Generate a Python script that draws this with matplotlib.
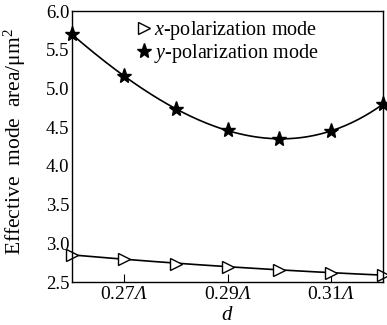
import numpy as np
import matplotlib
matplotlib.use('Agg')
import matplotlib.pyplot as plt

plt.rcParams['font.family'] = 'Liberation Serif'
plt.rcParams['mathtext.fontset'] = 'custom'
plt.rcParams['mathtext.rm'] = 'Liberation Serif'
plt.rcParams['mathtext.it'] = 'Liberation Serif:italic'
# italic slot for the capital Lambda (mathtext forces Greek capitals upright in 'it')
plt.rcParams['mathtext.sf'] = 'Liberation Serif:italic'

# data
d = [0.26, 0.27, 0.28, 0.29, 0.30, 0.31, 0.32]
x_mode = [2.85, 2.80, 2.74, 2.70, 2.66, 2.62, 2.59]
y_mode = [5.70, 5.16, 4.74, 4.46, 4.35, 4.45, 4.80]
xtick_pos = [0.27, 0.29, 0.31]
xtick_labels = [r'0.27$\mathsf{\Lambda}$', r'0.29$\mathsf{\Lambda}$', r'0.31$\mathsf{\Lambda}$']

fig = plt.figure(figsize=(3.87, 3.25), dpi=100)
ax = fig.add_axes([0.186, 0.132, 0.804, 0.834])

# smooth curves through the points
dd = np.linspace(d[0], d[-1], 200)
ax.plot(dd, np.polyval(np.polyfit(d, x_mode, 3), dd), 'k-', lw=1.2)
ax.plot(dd, np.polyval(np.polyfit(d, y_mode, 3), dd), 'k-', lw=1.2)
ax.plot(d, x_mode, '>', color='k', mfc='white', ms=8.5, mew=1.0, clip_on=False,
        label=r'$x$-polarization mode')
ax.plot(d, y_mode, '*', color='k', ms=11, clip_on=False,
        label=r'$y$-polarization mode')

ax.set_xlim(0.26, 0.32)
ax.set_ylim(2.5, 6.0)
ax.set_xticks(xtick_pos)
ax.set_xticklabels(xtick_labels)
ax.set_yticks(np.arange(2.5, 6.01, 0.5))
ax.tick_params(axis='x', direction='in', length=6, labelsize=14, pad=3)
ax.tick_params(axis='y', length=0, labelsize=13.5, pad=2)
for s in ax.spines.values():
    s.set_linewidth(1.0)

ax.set_xlabel(r'$d$', fontsize=15, labelpad=2)
ax.set_ylabel('Effective  mode  area/μm$^2$', fontsize=15.5)
ax.yaxis.set_label_coords(-0.14, 0.52)

ax.legend(loc='upper left', frameon=False, fontsize=14.5, handletextpad=0.1,
          handlelength=0.8, labelspacing=0.0, borderaxespad=0.0,
          bbox_to_anchor=(0.18, 1.0))

plt.savefig('out.png', dpi=100)
